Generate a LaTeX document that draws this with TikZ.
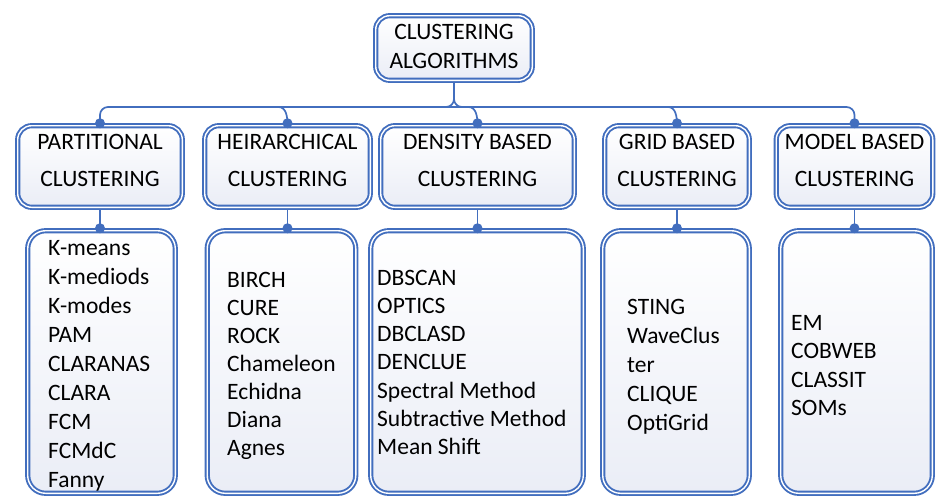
\documentclass[tikz,border=0pt]{standalone}
\usepackage{fontspec}
\setmainfont{Carlito}
\usetikzlibrary{calc,backgrounds}
\definecolor{frame}{RGB}{66,110,190}
\definecolor{tint}{RGB}{234,237,246}
\tikzset{
  box/.style={draw=frame, line width=1.9pt, double=white, double distance=1.4pt,
    top color=white, bottom color=tint, inner sep=0pt},
  topbox/.style={box, rounded corners=14pt, minimum width=156.6pt, minimum height=64.6pt},
  hdr/.style={box, rounded corners=14pt, minimum width=#1, minimum height=81.6pt},
  lst/.style={box, rounded corners=18pt, minimum width=#1, minimum height=262.6pt},
  hdrtxt/.style={align=center, inner sep=0pt, font=\fontsize{23.5}{37}\selectfont},
  toptxt/.style={align=center, inner sep=0pt, font=\fontsize{23.5}{29}\selectfont},
  item/.style={anchor=base west, inner sep=0pt, font=\fontsize{23.5}{28}\selectfont},
  conn/.style={draw=frame, line width=1.7pt},
  dot/.style={fill=frame},
}
\begin{document}
\begin{tikzpicture}[x=1pt,y=1pt]
\useasboundingbox (0,0) rectangle (937,-498);

% root
\node[topbox] (top) at (454,-48) {};
\node[toptxt] (top-t) at (454,-46) {CLUSTERING\\ALGORITHMS};

% category headers
\node[hdr=164.6pt] (ph) at (100,-166.5) {};
\node[hdr=165.6pt] (hh) at (287.5,-166.5) {};
\node[hdr=193.6pt] (dh) at (477.5,-166.5) {};
\node[hdr=144.6pt] (gh) at (677,-166.5) {};
\node[hdr=156.6pt] (mh) at (854.5,-166.5) {};

\node[hdrtxt] (ph-t) at ($(ph.center)+(0,6)$) {PARTITIONAL\\CLUSTERING};
\node[hdrtxt] (hh-t) at ($(hh.center)+(0,6)$) {HEIRARCHICAL\\CLUSTERING};
\node[hdrtxt] (dh-t) at ($(dh.center)+(0,6)$) {DENSITY BASED\\CLUSTERING};
\node[hdrtxt] (gh-t) at ($(gh.center)+(0,6)$) {GRID BASED\\CLUSTERING};
\node[hdrtxt] (mh-t) at ($(mh.center)+(0,6)$) {MODEL BASED\\CLUSTERING};

% algorithm lists
\node[lst=147.6pt] (pl) at (101.5,-362) {};
\node[lst=148.6pt] (hl) at (281.5,-362) {};
\node[lst=212.6pt] (dl) at (477,-362) {};
\node[lst=146.6pt] (gl) at (676,-362) {};
\node[lst=151.6pt] (ml) at (856.5,-362) {};

\foreach \t [count=\i from 0] in {K-means,K-mediods,K-modes,PAM,CLARANAS,CLARA,FCM,FCMdC,Fanny}
  \node[item] (pi-\i) at (48,{-255-29*\i}) {\t};
\foreach \t [count=\i from 0] in {BIRCH,CURE,ROCK,Chameleon,Echidna,Diana,Agnes}
  \node[item] (hi-\i) at (227,{-287-28*\i}) {\t};
\foreach \t [count=\i from 0] in {DBSCAN,OPTICS,DBCLASD,DENCLUE,Spectral Method,Subtractive Method,Mean Shift}
  \node[item] (di-\i) at (377,{-285-28.3*\i}) {\t};
\foreach \t [count=\i from 0] in {STING,WaveClus,ter,CLIQUE,OptiGrid}
  \node[item] (gi-\i) at (627,{-314-29*\i}) {\t};
\foreach \t [count=\i from 0] in {EM,COBWEB,CLASSIT,SOMs}
  \node[item] (mi-\i) at (791,{-330-28.5*\i}) {\t};

% connectors behind the boxes
\begin{scope}[on background layer]
  \coordinate (bus) at (0,-107);
  % brace under the root
  \draw[conn] (top.south) -- ($(top.south |- bus)+(0,8)$) coordinate (bk);
  \draw[conn] (bk) to[out=-90,in=0] ($(bk)+(-8,-8)$);
  \draw[conn] (bk) to[out=-90,in=180] ($(bk)+(8,-8)$);
  % horizontal bus with its two outer drops
  \draw[conn, rounded corners=8pt] (ph.north) -- (ph.north |- bus) -- (mh.north |- bus) -- (mh.north);
  % inner drops
  \foreach \n in {hh,dh,gh}
    \draw[conn] ($(\n.north |- bus)+(-9,0)$) to[out=0,in=90] (\n.north);
  % header to list
  \foreach \h/\l in {ph/pl,hh/hl,dh/dl,gh/gl,mh/ml}
    \draw[conn] (\h.south) -- (\h.south |- \l.north);
\end{scope}

% joint dots
\foreach \n in {ph,hh,dh,gh,mh}
  \fill[dot] ($(\n.north)+(0,1.5)$) circle (5pt);
\foreach \h/\l in {ph/pl,hh/hl,dh/dl,gh/gl,mh/ml}
  \fill[dot] ($(\h.south |- \l.north)+(0,1.5)$) circle (5pt);
\end{tikzpicture}
\end{document}
